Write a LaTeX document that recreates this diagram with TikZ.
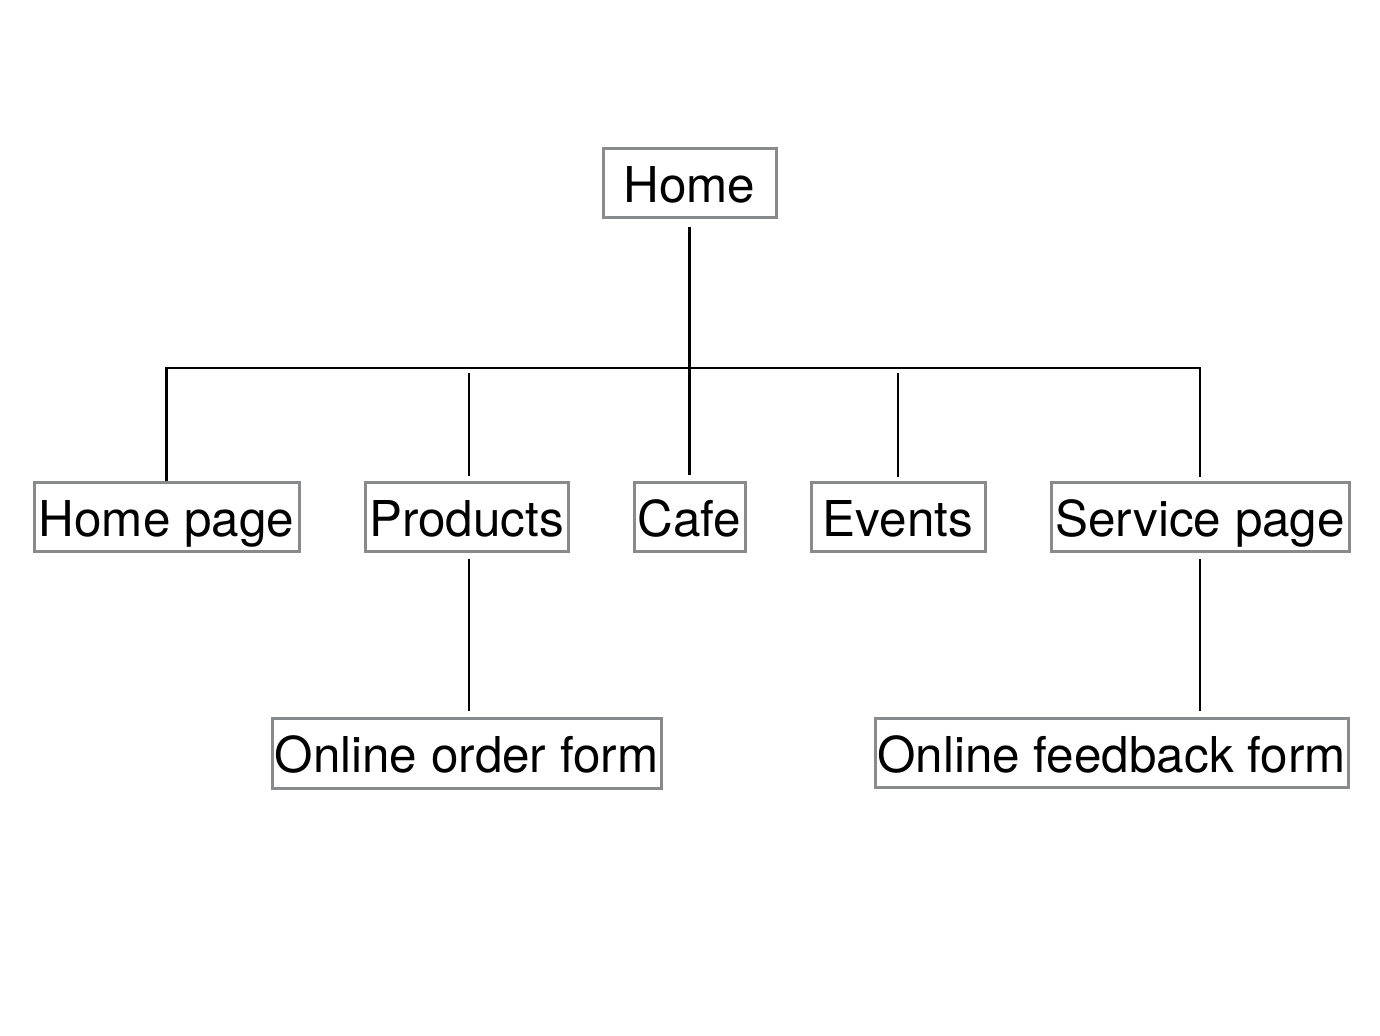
\documentclass[tikz,border=0pt]{standalone}
\usepackage{fontspec}
\setmainfont{TeX Gyre Heros}
\definecolor{boxgray}{HTML}{898A8C}
\begin{document}
\begin{tikzpicture}[x=0.5pt,y=-0.5pt,
  box/.style={draw=boxgray, line width=1.5pt, inner sep=0pt, text=black,
    text height=24pt, text depth=4.5pt,
    font=\fontsize{24.7}{28}\selectfont},
  link/.style={draw=black, line width=1.2pt}]
\useasboundingbox (0,0) rectangle (1380,1036);
\node[box, minimum width=86.5pt, minimum height=34.5pt] (home) at (689.5,183.5) {Home};
\node[box, minimum width=132.5pt, minimum height=34.5pt] (hp) at (166.5,517.5) {Home page};
\node[box, minimum width=101.5pt, minimum height=34.5pt] (prod) at (466.5,517.5) {Products};
\node[box, minimum width=55.5pt, minimum height=34.5pt] (cafe) at (689.5,517.5) {Cafe};
\node[box, minimum width=87pt, minimum height=34.5pt] (events) at (898,517.5) {Events};
\node[box, minimum width=149pt, minimum height=34.5pt] (sp) at (1200,517.5) {Service page};
\node[box, minimum width=194.5pt, minimum height=35pt] (order) at (466.5,753) {Online order form};
\node[box, minimum width=236.5pt, minimum height=34.5pt] (feedback) at (1111.5,752.5) {Online feedback form};
\coordinate (bus) at (689,368);
% trunk from Home to Cafe
\draw[link, shorten <=4pt, shorten >=3pt] (home.south) -- (cafe.north);
% horizontal bus with outer drops
\draw[link, shorten >=2pt] (hp.north) -- (hp.north |- bus) -- (sp.north |- bus) -- (sp.north);
% inner drops
\draw[link, shorten <=2.5pt, shorten >=2.5pt] ([xshift=1.2pt]prod.north |- bus) -- ([xshift=1.2pt]prod.north);
\draw[link, shorten <=2.5pt, shorten >=2pt] (events.north |- bus) -- (events.north);
% second level
\draw[link, shorten <=3pt, shorten >=3pt] ([xshift=1.2pt]prod.south) -- ([xshift=1.2pt]prod.south |- order.north);
\draw[link, shorten <=3pt, shorten >=3pt] (sp.south) -- (sp.south |- feedback.north);
\end{tikzpicture}
\end{document}
